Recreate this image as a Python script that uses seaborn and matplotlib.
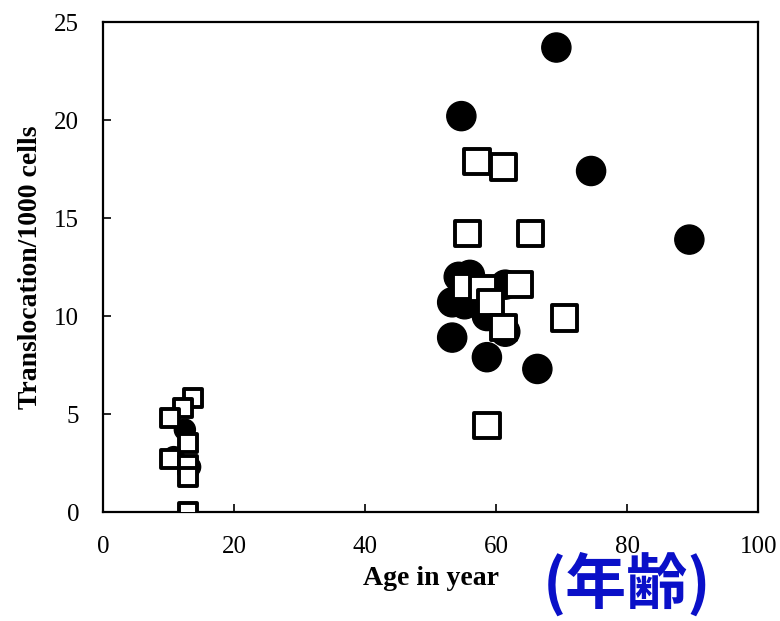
import matplotlib
matplotlib.use("Agg")
import matplotlib.pyplot as plt
import seaborn as sns
import pandas as pd

# Filled circles
circle_age = [69.2, 54.7, 74.5, 89.5, 66.3, 58.6, 53.3, 54.3, 56.0, 53.3, 55.2, 61.4, 58.6, 61.4,
              12.5, 13.3, 10.8]
circle_trans = [23.7, 20.2, 17.4, 13.9, 7.3, 7.9, 8.9, 12.0, 12.1, 10.7, 10.6, 11.6, 10.0, 9.2,
                4.2, 2.3, 2.8]
circle_cohort = ["adult"] * 14 + ["child"] * 3

# Open squares
square_age = [57.1, 61.1, 55.6, 65.2, 55.4, 58.0, 59.2, 63.5, 61.1, 70.5, 58.6,
              13.7, 12.2, 10.2, 13.0, 10.2, 13.0, 13.0, 13.0]
square_trans = [17.9, 17.6, 14.2, 14.2, 11.5, 11.4, 10.7, 11.6, 9.4, 9.9, 4.4,
                5.8, 5.3, 4.8, 3.5, 2.7, 2.4, 1.8, 0.0]
square_cohort = ["adult"] * 11 + ["child"] * 8

x_ticks = [0, 20, 40, 60, 80, 100]
y_ticks = [0, 5, 10, 15, 20, 25]

circles = pd.DataFrame({"age": circle_age, "trans": circle_trans, "cohort": circle_cohort})
squares = pd.DataFrame({"age": square_age, "trans": square_trans, "cohort": square_cohort})

sns.set_theme(style="white")
plt.rcParams["font.family"] = ["Liberation Serif", "DejaVu Serif"]
plt.rcParams["text.color"] = "black"
plt.rcParams["axes.labelcolor"] = "black"

fig = plt.figure(figsize=(7.8, 6.21), dpi=100)
ax = fig.add_axes([0.132, 0.1755, 0.840, 0.789])

sns.scatterplot(data=circles, x="age", y="trans", size="cohort", sizes={"adult": 440, "child": 230},
                marker="o", color="black", edgecolor="black", linewidth=1,
                legend=False, ax=ax, zorder=3)
sns.scatterplot(data=squares, x="age", y="trans", size="cohort", sizes={"adult": 330, "child": 170},
                marker="s", color="white", edgecolor="black", linewidth=2.8,
                legend=False, ax=ax, zorder=4)

ax.set_xlim(0, 100)
ax.set_ylim(0, 25)
ax.set_xticks(x_ticks)
ax.set_yticks(y_ticks)
ax.tick_params(axis="both", direction="in", length=6, width=1.2, labelsize=18,
               colors="black", top=False, right=False, bottom=True, left=True)
ax.tick_params(axis="y", pad=17)
ax.tick_params(axis="x", pad=17)
for s in ax.spines.values():
    s.set_color("black")
    s.set_linewidth(1.6)

ax.set_xlabel("Age in year", fontsize=20, fontweight="bold", labelpad=6, color="black")
ax.set_ylabel("Translocation/1000 cells", fontsize=20, fontweight="bold", labelpad=8, color="black")

fig.text(0.804, 0.058, "(年齢)", fontsize=44, fontweight="bold", color="#0a10c8",
         family=["Noto Sans CJK JP", "DejaVu Sans"], ha="center", va="center")

fig.savefig("out.png", dpi=100, facecolor="white")
